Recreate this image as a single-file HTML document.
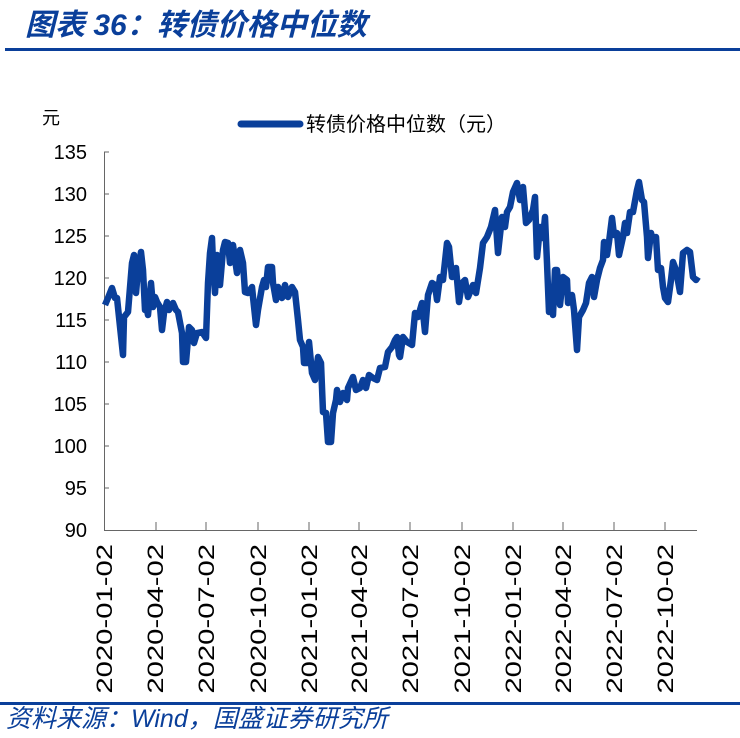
<!DOCTYPE html>
<html><head><meta charset="utf-8"><style>
body{margin:0;background:#fff;width:740px;height:738px;overflow:hidden;font-family:"Liberation Sans","Noto Sans CJK SC",sans-serif}
</style></head><body>
<svg width="740" height="738" xmlns="http://www.w3.org/2000/svg" style="position:absolute;left:0;top:0">
<text x="25" y="35" font-size="30" font-weight="bold" font-style="italic" fill="#0a3f9a" font-family="'Liberation Sans','Noto Sans CJK SC',sans-serif">图表 36：转债价格中位数</text>
<rect x="5" y="48" width="735" height="3" fill="#0a3f9a"/>
<text x="42" y="124" font-size="18" fill="#000" font-family="'Liberation Sans','Noto Sans CJK SC',sans-serif">元</text>
<line x1="241" y1="124" x2="300" y2="124" stroke="#0a3f9a" stroke-width="7" stroke-linecap="round"/>
<text x="306" y="131" font-size="20" fill="#000" font-family="'Liberation Sans','Noto Sans CJK SC',sans-serif">转债价格中位数（元）</text>
<g font-size="20" fill="#000" text-anchor="end" font-family="'Liberation Sans',sans-serif">
<text x="87" y="159">135</text><text x="87" y="201">130</text><text x="87" y="243">125</text><text x="87" y="285">120</text><text x="87" y="327">115</text><text x="87" y="369">110</text><text x="87" y="411">105</text><text x="87" y="453">100</text><text x="87" y="495">95</text><text x="87" y="537">90</text>
</g>
<g stroke="#666" stroke-width="1">
<line x1="104.5" y1="152" x2="104.5" y2="530"/>
<line x1="104" y1="530.5" x2="697" y2="530.5"/>
<path d="M104 152h5M104 194h5M104 236h5M104 278h5M104 320h5M104 362h5M104 404h5M104 446h5M104 488h5"/>
<path d="M156 530v-8M206 530v-8M258 530v-8M309 530v-8M359 530v-8M410 530v-8M462 530v-8M513 530v-8M563 530v-8M614 530v-8M665 530v-8"/>
</g>
<g font-size="22" fill="#000" text-anchor="end" font-family="'Liberation Sans',sans-serif">
<text transform="translate(112,544) rotate(-90) scale(1.33,1)">2020-01-02</text>
<text transform="translate(163,544) rotate(-90) scale(1.33,1)">2020-04-02</text>
<text transform="translate(214,544) rotate(-90) scale(1.33,1)">2020-07-02</text>
<text transform="translate(266,544) rotate(-90) scale(1.33,1)">2020-10-02</text>
<text transform="translate(317,544) rotate(-90) scale(1.33,1)">2021-01-02</text>
<text transform="translate(367,544) rotate(-90) scale(1.33,1)">2021-04-02</text>
<text transform="translate(418,544) rotate(-90) scale(1.33,1)">2021-07-02</text>
<text transform="translate(470,544) rotate(-90) scale(1.33,1)">2021-10-02</text>
<text transform="translate(521,544) rotate(-90) scale(1.33,1)">2022-01-02</text>
<text transform="translate(571,544) rotate(-90) scale(1.33,1)">2022-04-02</text>
<text transform="translate(622,544) rotate(-90) scale(1.33,1)">2022-07-02</text>
<text transform="translate(673,544) rotate(-90) scale(1.33,1)">2022-10-02</text>
</g>
<polyline fill="none" stroke="#0a3f9a" stroke-width="6.5" stroke-linejoin="round" points="105,305 108,298 112,288 115,298 117,298 123,355 124,317 128,312 132,263 134,255 136,293 138,270 141,252 143,270 145,310 147,310 148,315 151,283 153,307 155,297 157,302 160,307 162,330 164,313 167,302 169,310 173,303 176,310 178,312 182,333 183,362 186,362 189,327 192,330 194,343 197,333 202,332 206,338 208,283 210,253 212,238 213,263 215,293 217,255 218,260 220,285 223,250 225,242 228,243 230,263 232,247 233,245 237,273 240,250 243,263 245,292 248,293 252,287 253,297 256,325 258,310 262,287 264,280 266,287 268,267 272,267 273,283 276,300 278,287 282,298 285,285 288,297 292,287 295,292 298,320 300,340 303,347 304,363 307,363 309,342 312,373 315,380 318,357 321,363 323,412 326,413 328,442 331,442 333,413 336,400 337,390 340,402 343,393 347,400 348,388 353,377 356,390 360,388 363,380 366,388 369,375 373,378 377,380 380,368 385,367 388,352 392,347 395,340 397,337 399,355 400,357 403,337 407,342 412,345 415,313 418,317 422,303 425,332 428,295 432,283 435,285 437,300 440,277 443,280 447,243 449,247 452,277 456,268 459,302 462,283 465,280 468,297 473,285 476,293 480,268 483,243 487,237 491,227 495,210 498,253 502,217 505,227 507,212 510,207 513,192 517,183 520,200 523,187 526,223 529,220 533,210 535,197 537,257 540,227 543,238 545,217 547,263 549,312 552,297 553,315 555,270 557,270 560,305 563,277 567,280 568,303 572,295 574,310 577,350 579,317 583,310 586,303 589,283 592,277 594,297 597,280 600,268 603,260 604,242 607,255 609,242 612,218 614,235 617,233 619,255 623,237 625,223 627,233 630,212 633,212 637,190 639,182 642,200 644,202 647,237 648,258 651,233 653,240 656,237 658,270 661,268 663,287 665,298 668,302 671,280 673,262 676,270 680,292 683,253 687,250 690,252 693,277 696,280 698,277"/>
<rect x="0" y="702" width="740" height="3" fill="#0a3f9a"/>
<text x="6" y="727" font-size="25" font-style="italic" fill="#0a3f9a" font-family="'Liberation Sans','Noto Sans CJK SC',sans-serif">资料来源：Wind，国盛证券研究所</text>
</svg>
</body></html>
